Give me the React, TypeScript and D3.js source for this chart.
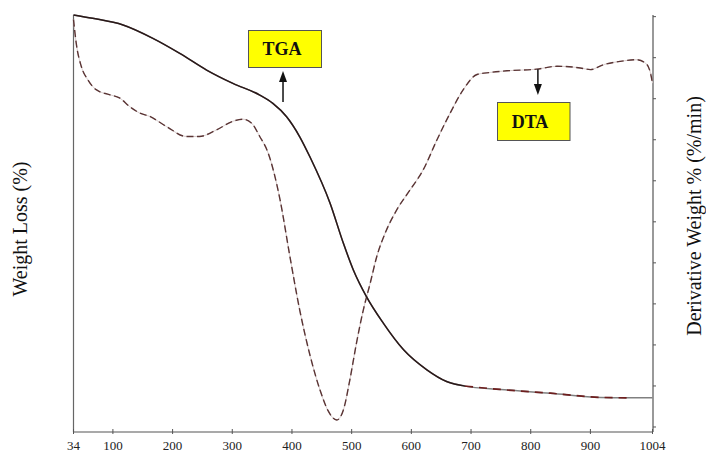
import React from 'react';
import * as d3 from 'd3';

// Temperature axis (°C)
const tempTicks = [34, 100, 200, 300, 400, 500, 600, 700, 800, 900, 1004];
const derivTicks = [0, 1, 2, 3, 4, 5, 6, 7, 8, 9, 10];

// TGA: weight (%)
const tgaTemp = [34, 66, 117, 167, 212, 257, 301, 346, 368, 391, 413, 430, 464, 486, 503, 525, 553, 587, 626, 659, 690, 749, 833, 917, 961, 1004];
const tgaWeight = [100, 99.2, 97.6, 94.4, 90.8, 86.8, 83.6, 80.8, 78.8, 75.6, 70.8, 66.0, 54.8, 45.3, 38.8, 32.4, 26.1, 19.7, 14.9, 12.1, 11.0, 10.2, 9.3, 8.3, 8.2, 8.2];

// DTA: derivative weight (%/min)
const dtaTemp = [34, 38.5, 47, 58, 72, 94, 111, 128, 145, 161.5, 190, 223, 245, 273.5, 301, 318, 332, 346, 360, 380, 396, 413, 430, 447, 460, 475, 486, 497, 508, 519.5, 531, 542, 556, 575.5, 598, 620, 643, 665, 687, 710, 732, 760, 810, 844, 883, 900, 922, 950, 978, 995, 1001, 1004];
const dtaDeriv = [9.93, 9.36, 8.79, 8.46, 8.22, 8.10, 8.02, 7.81, 7.65, 7.57, 7.32, 7.08, 7.08, 7.24, 7.45, 7.50, 7.41, 7.08, 6.68, 5.54, 4.20, 2.85, 1.76, 0.90, 0.41, 0.17, 0.41, 1.15, 2.04, 2.85, 3.50, 4.15, 4.72, 5.29, 5.78, 6.27, 7.0, 7.65, 8.22, 8.59, 8.64, 8.68, 8.72, 8.79, 8.75, 8.71, 8.83, 8.91, 8.95, 8.83, 8.60, 8.38];

export default function App() {
  const W = 706, H = 452;
  const left = 73.5, right = 653, top = 15, bottom = 432;
  const x = d3.scaleLinear().domain([34, 1004]).range([left, right - 0.5]);
  const yL = d3.scaleLinear().domain([0, 100]).range([bottom, top]);
  const yR = d3.scaleLinear().domain([-0.122, 10.04]).range([bottom, top]);

  const tga = tgaTemp.map((t, i) => [t, tgaWeight[i]] as [number, number]);
  const dta = dtaTemp.map((t, i) => [t, dtaDeriv[i]] as [number, number]);

  const lineL = d3.line<[number, number]>().x(d => x(d[0])).y(d => yL(d[1])).curve(d3.curveMonotoneX);
  const lineR = d3.line<[number, number]>().x(d => x(d[0])).y(d => yR(d[1])).curve(d3.curveMonotoneX);

  const tgaHead = tga.filter(d => d[0] <= 700);
  const tgaTail = tga.filter(d => d[0] >= 690 && d[0] <= 961);

  const font = '"Liberation Serif", "Times New Roman", serif';

  const tgaArrowX = x(385);
  const dtaArrowX = x(812);

  return (
    <div style={{ position: 'absolute', left: 0, top: 0 }}>
      <svg width={W} height={H} style={{ display: 'block', background: '#fff' }}>
        {/* axes */}
        <line x1={left} y1={top} x2={left} y2={bottom} stroke="#666" strokeWidth={1.2} />
        <line x1={right} y1={top} x2={right} y2={bottom} stroke="#555" strokeWidth={1.2} />
        <line x1={left} y1={bottom} x2={right} y2={bottom} stroke="#555" strokeWidth={1.2} />
        {derivTicks.map(t => (
          <line key={'rt' + t} x1={right} x2={right + 3} y1={yR(t)} y2={yR(t)} stroke="#555" strokeWidth={1} />
        ))}
        {tempTicks.map(t => (
          <g key={'xt' + t}>
            <line x1={x(t)} x2={x(t)} y1={bottom - 3} y2={bottom + 2} stroke="#555" strokeWidth={1} />
            <text x={x(t)} y={450} textAnchor="middle" fontFamily={font} fontSize={13} fill="#222">{t}</text>
          </g>
        ))}

        {/* DTA dashed */}
        <path d={lineR(dta) || ''} fill="none" stroke="#d8cccc" strokeWidth={1} />
        <path d={lineR(dta) || ''} fill="none" stroke="#5a3434" strokeWidth={1.4} strokeDasharray="7,3.5" />

        {/* TGA */}
        <path d={lineL(tga) || ''} fill="none" stroke="#808080" strokeWidth={1.5} />
        <path d={lineL(tgaHead) || ''} fill="none" stroke="#2a1818" strokeWidth={1.5} />
        <path d={lineL(tgaTail) || ''} fill="none" stroke="#6e1e1e" strokeWidth={1.7} strokeDasharray="8,6" />

        {/* TGA annotation */}
        <rect x={248.5} y={30.5} width={73} height={37} fill="#ffff00" stroke="#555" strokeWidth={1} />
        <text x={282} y={55} textAnchor="middle" fontFamily={font} fontSize={18} fontWeight="bold" fill="#111">TGA</text>
        <line x1={tgaArrowX} y1={102} x2={tgaArrowX} y2={80} stroke="#111" strokeWidth={1.5} />
        <path d={`M${tgaArrowX},${71} L${tgaArrowX - 4},${82} L${tgaArrowX + 4},${82} Z`} fill="#111" />

        {/* DTA annotation */}
        <rect x={497.5} y={102.5} width={72.5} height={38} fill="#ffff00" stroke="#555" strokeWidth={1} />
        <text x={530} y={128} textAnchor="middle" fontFamily={font} fontSize={18} fontWeight="bold" fill="#111">DTA</text>
        <line x1={dtaArrowX} y1={yR(8.72)} x2={dtaArrowX} y2={87} stroke="#111" strokeWidth={1.5} />
        <path d={`M${dtaArrowX},${95} L${dtaArrowX - 4},${84} L${dtaArrowX + 4},${84} Z`} fill="#111" />

        {/* axis titles */}
        <text transform={`translate(27,${229}) rotate(-90)`} textAnchor="middle" fontFamily={font} fontSize={20} fill="#111">Weight Loss (%)</text>
        <text transform={`translate(701,${216}) rotate(-90)`} textAnchor="middle" fontFamily={font} fontSize={20} fill="#111">Derivative Weight %  (%/min)</text>
      </svg>
    </div>
  );
}
